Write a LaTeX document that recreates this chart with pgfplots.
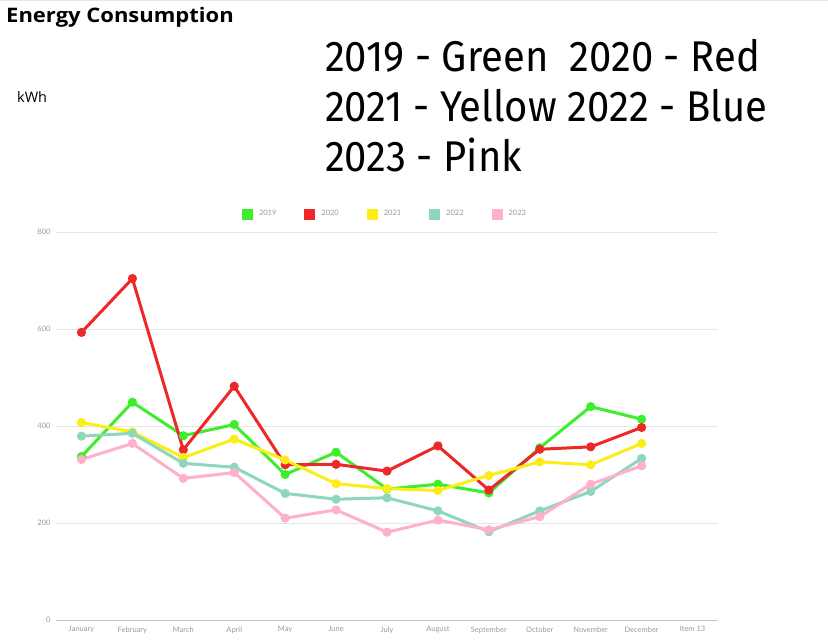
\documentclass[border=0pt]{standalone}
\usepackage{pgfplots}
\pgfplotsset{compat=1.18}
\usepackage{fontspec}
\setmainfont{Lato}
\newfontfamily\headfont[FakeStretch=0.93]{Fira Sans}
\newfontfamily\titlefont{Open Sans}
\newfontfamily\titlefontw[FakeStretch=1.1]{Open Sans}
\definecolor{cgreen}{RGB}{60,238,44}
\definecolor{cred}{RGB}{236,40,40}
\definecolor{cyellow}{RGB}{250,238,22}
\definecolor{cteal}{RGB}{142,214,190}
\definecolor{cpink}{RGB}{255,176,202}
\definecolor{ctick}{RGB}{160,152,150}
\definecolor{cgrid}{RGB}{230,230,230}
\begin{document}
\begin{tikzpicture}[x=1pt,y=1pt]
\path[use as bounding box] (0,0) rectangle (828,642);
\draw[cgrid,line width=1pt] (0,641.5) -- (828,641.5);
\node[anchor=base west,inner sep=0pt] at (6,619) {\titlefontw\bfseries\fontsize{20}{24}\selectfont Energy Consumption};
\node[anchor=base west,inner sep=0pt] at (17,539) {\titlefont\fontsize{14.5}{16}\selectfont kWh};
\node[anchor=base west,inner sep=0pt] at (325,570) {\headfont\fontsize{43}{50}\selectfont 2019 - Green\ \ 2020 - Red};
\node[anchor=base west,inner sep=0pt] at (325,520) {\headfont\fontsize{43}{50}\selectfont 2021 - Yellow 2022 - Blue};
\node[anchor=base west,inner sep=0pt] at (325,470) {\headfont\fontsize{43}{50}\selectfont 2023 - Pink};
\begin{axis}[
  at={(56pt,22pt)}, anchor=south west,
  scale only axis, width=662pt, height=388pt,
  xmin=-0.5, xmax=12.5, ymin=0, ymax=800,
  xtick={0,...,12},
  xticklabels={January,February,March,April,May,June,July,August,September,October,November,December,Item 13},
  ytick={0,200,400,600,800},
  ymajorgrids, grid style={cgrid,line width=0.8pt},
  axis x line*=bottom, axis y line*=left,
  y axis line style={draw=none},
  x axis line style={draw=ctick!60,line width=0.8pt,-},
  major tick length=0pt,
  tick label style={font=\fontsize{7.5}{8}\selectfont, text=ctick},
  xticklabel style={yshift=-3pt},
  yticklabel style={xshift=-2pt},
  /pgf/number format/assume math mode=true,
  clip=false,
  every axis plot/.append style={line width=3pt, mark=*, mark size=3pt},
  legend style={at={(0.5,1)}, anchor=center, yshift=18pt, xshift=-2pt, draw=none, fill=none,
    font=\fontsize{7.5}{8}\selectfont, text=ctick,
    /tikz/every odd column/.append style={column sep=4pt},
    /tikz/every even column/.append style={column sep=26pt}},
  legend columns=5,
  legend image code/.code={\fill[#1] (0pt,-4pt) rectangle (8pt,4pt);},
]
\addplot[cgreen] coordinates {(0,337) (1,449) (2,380) (3,403) (4,300) (5,346) (6,270) (7,280) (8,262) (9,355) (10,440) (11,414)};
\addplot[cred] coordinates {(0,593) (1,704) (2,351) (3,482) (4,320) (5,321) (6,307) (7,359) (8,268) (9,352) (10,357) (11,397)};
\addplot[cyellow] coordinates {(0,407) (1,388) (2,335) (3,373) (4,330) (5,281) (6,271) (7,267) (8,298) (9,326) (10,320) (11,364)};
\addplot[cteal] coordinates {(0,379) (1,385) (2,323) (3,315) (4,261) (5,249) (6,252) (7,225) (8,182) (9,225) (10,265) (11,333)};
\addplot[cpink] coordinates {(0,331) (1,364) (2,292) (3,304) (4,210) (5,227) (6,181) (7,206) (8,186) (9,213) (10,280) (11,318)};
\legend{2019,2020,2021,2022,2023}
\end{axis}
\end{tikzpicture}
\end{document}
